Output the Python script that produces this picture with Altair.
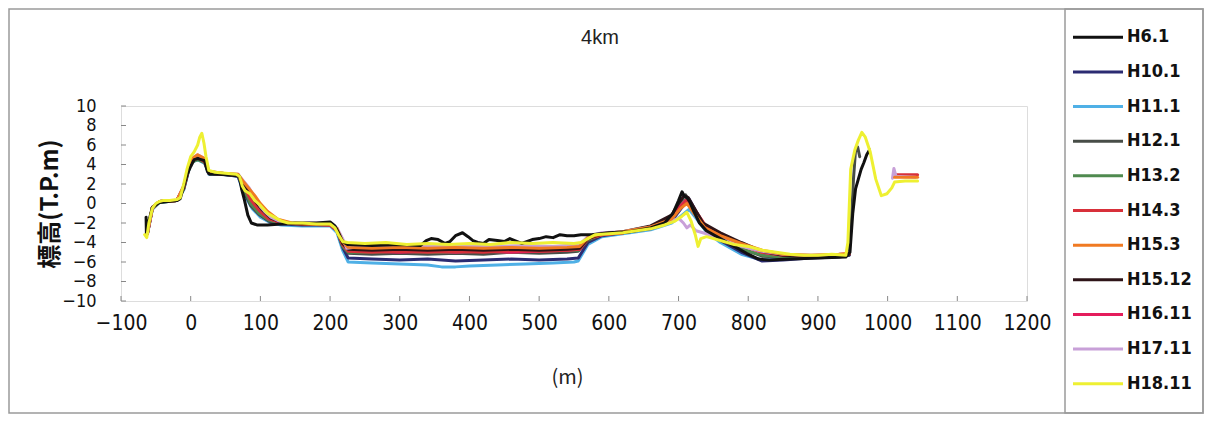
import altair as alt
import pandas as pd

# ---------------- data ----------------
series_names = ["H6.1", "H10.1", "H11.1", "H12.1", "H13.2", "H14.3",
                "H15.3", "H15.12", "H16.11", "H17.11", "H18.11"]
series_colors = ["#111111", "#2b2b72", "#4fb0e6", "#474d47", "#4f8a4f", "#d8303a",
                 "#f07a22", "#2e1418", "#e41c5c", "#c8a0d8", "#eef032"]

x_ticks = [-100, 0, 100, 200, 300, 400, 500, 600, 700, 800, 900, 1000, 1100, 1200]
y_ticks = [-10, -8, -6, -4, -2, 0, 2, 4, 6, 8, 10]

h6_1_x = [-64, -63.5, -60, -55, -45, -20, -15, -5, 0, 5, 10, 20, 24, 27, 40, 60, 70, 73, 77, 82, 87, 95, 110, 130, 150, 180, 200, 207, 212, 218, 225, 260, 300, 330, 338, 345, 355, 365, 372, 380, 390, 398, 405, 412, 420, 428, 440, 450, 458, 465, 475, 490, 500, 510, 520, 530, 540, 550, 560, 575, 600, 630, 660, 680, 692, 700, 705, 708, 712, 716, 722, 730, 740, 760, 780, 800, 815, 830, 860, 900, 940, 946, 950, 954, 958, 962, 966, 970, 974]
h6_1_y = [-1.4, -3.2, -1.8, -0.4, 0.1, 0.3, 0.5, 3.0, 3.8, 4.5, 4.6, 4.4, 3.3, 3.0, 3.0, 2.9, 2.8, 1.5, 0.4, -1.2, -2.0, -2.2, -2.2, -2.1, -2.0, -2.0, -1.9, -2.3, -3.0, -3.9, -4.2, -4.3, -4.2, -4.3, -3.8, -3.6, -3.7, -4.1, -3.9, -3.3, -3.0, -3.4, -3.8, -4.0, -4.1, -3.7, -3.8, -3.9, -3.6, -3.8, -4.1, -3.7, -3.6, -3.4, -3.5, -3.2, -3.3, -3.3, -3.2, -3.2, -3.0, -2.9, -2.5, -2.0, -1.0, 0.3, 1.2, 0.8, 0.6, 0.2, -0.8, -2.0, -2.8, -3.6, -4.4, -5.2, -5.7, -5.8, -5.7, -5.6, -5.5, -5.0, -1.0, 1.5, 2.5, 3.5, 4.2, 5.0, 5.5]

h10_1_x = [-62, -55, -45, -20, -10, 0, 10, 20, 26, 45, 68, 76, 88, 100, 115, 130, 160, 200, 210, 218, 226, 260, 300, 340, 380, 420, 460, 500, 540, 556, 570, 590, 620, 660, 690, 705, 715, 725, 740, 760, 790, 820, 850, 890, 930, 945]
h10_1_y = [-3.0, -0.5, 0.2, 0.3, 1.5, 4.3, 4.6, 4.2, 3.1, 3.0, 2.8, 1.2, -0.3, -1.2, -1.9, -2.1, -2.2, -2.2, -2.8, -4.5, -5.6, -5.7, -5.8, -5.7, -5.9, -5.8, -5.7, -5.8, -5.7, -5.6, -4.0, -3.3, -3.0, -2.6, -1.8, -0.4, 0.5, -0.8, -2.6, -3.8, -5.0, -5.9, -5.8, -5.6, -5.5, -5.3]

h11_1_x = [-62, -55, -45, -20, -10, 0, 10, 20, 26, 45, 68, 76, 88, 100, 115, 130, 160, 200, 210, 218, 226, 260, 300, 340, 360, 380, 400, 440, 480, 520, 550, 556, 570, 590, 620, 660, 690, 705, 715, 725, 740, 760, 790, 820, 850, 890, 930, 945]
h11_1_y = [-3.1, -0.6, 0.1, 0.3, 1.4, 4.2, 4.5, 4.1, 3.0, 3.0, 2.8, 1.0, -0.5, -1.4, -2.0, -2.2, -2.3, -2.3, -3.0, -4.8, -6.0, -6.1, -6.2, -6.3, -6.5, -6.5, -6.4, -6.3, -6.2, -6.1, -6.0, -5.9, -4.2, -3.4, -3.1, -2.7, -2.0, -1.2, -0.6, -1.5, -2.9, -4.0, -5.2, -5.8, -5.7, -5.5, -5.4, -5.3]

h12_1_x = [-62, -55, -45, -20, -10, 0, 10, 20, 26, 45, 68, 76, 86, 98, 112, 130, 160, 200, 210, 218, 226, 260, 300, 340, 380, 420, 460, 500, 540, 556, 570, 590, 620, 660, 690, 703, 710, 720, 735, 760, 790, 820, 850, 890, 930, 944, 948, 951, 954, 957, 960]
h12_1_y = [-3.0, -0.4, 0.2, 0.3, 1.6, 4.4, 4.7, 4.3, 3.2, 3.0, 2.9, 1.4, -0.2, -1.1, -1.8, -2.0, -2.1, -2.1, -2.7, -4.3, -5.1, -5.2, -5.1, -5.2, -5.1, -5.2, -5.0, -5.1, -5.0, -4.9, -3.8, -3.2, -3.0, -2.5, -1.6, 0.2, 0.9, -0.3, -2.2, -3.4, -4.6, -5.4, -5.5, -5.4, -5.4, -5.3, -2.0, 2.5, 5.5, 5.8, 4.8]

h13_2_x = [-62, -55, -45, -20, -10, 0, 10, 20, 26, 45, 68, 76, 86, 98, 112, 130, 160, 200, 210, 218, 226, 260, 300, 340, 380, 420, 460, 500, 540, 556, 570, 590, 620, 660, 690, 705, 712, 722, 738, 760, 790, 820, 850, 890, 930, 945]
h13_2_y = [-3.1, -0.5, 0.1, 0.3, 1.5, 4.2, 4.5, 4.2, 3.1, 3.0, 2.9, 1.6, 0.0, -1.0, -1.7, -2.0, -2.1, -2.2, -2.8, -4.4, -5.0, -5.0, -4.9, -5.0, -5.0, -4.9, -5.0, -4.9, -4.8, -4.8, -3.7, -3.2, -3.0, -2.5, -1.7, 0.0, 0.5, -0.6, -2.4, -3.5, -4.7, -5.3, -5.5, -5.4, -5.3, -5.2]

h14_3_x = [-62, -55, -45, -20, -10, 0, 10, 20, 26, 45, 68, 76, 86, 98, 112, 130, 160, 200, 210, 218, 226, 260, 300, 340, 380, 420, 460, 500, 540, 558, 570, 590, 620, 660, 690, 705, 713, 722, 738, 760, 790, 820, 850, 890, 930, 945]
h14_3_y = [-3.0, -0.4, 0.2, 0.3, 1.7, 4.4, 4.8, 4.3, 3.2, 3.1, 2.9, 1.8, 0.4, -0.7, -1.6, -1.9, -2.1, -2.2, -2.8, -4.2, -4.9, -5.0, -4.9, -5.0, -4.9, -5.0, -4.8, -4.9, -4.8, -4.7, -3.6, -3.2, -3.0, -2.4, -1.5, -0.2, 0.4, -0.5, -2.2, -3.2, -4.3, -5.0, -5.3, -5.4, -5.3, -5.2]
h14_3_end_x = [1010, 1043]
h14_3_end_y = [2.95, 2.95]

h15_3_x = [-62, -55, -45, -20, -10, 0, 10, 20, 26, 45, 68, 76, 84, 92, 100, 110, 125, 145, 170, 200, 210, 218, 226, 260, 300, 340, 380, 420, 460, 500, 540, 558, 570, 590, 620, 660, 690, 703, 712, 722, 738, 760, 790, 820, 850, 890, 930, 945]
h15_3_y = [-3.0, -0.4, 0.2, 0.3, 1.8, 4.5, 5.0, 4.6, 3.3, 3.1, 3.0, 2.2, 1.5, 0.8, 0.0, -0.8, -1.6, -2.0, -2.1, -2.1, -2.6, -3.9, -4.5, -4.6, -4.5, -4.6, -4.5, -4.6, -4.5, -4.6, -4.5, -4.4, -3.5, -3.1, -2.9, -2.4, -1.6, -0.5, 0.0, -1.0, -2.5, -3.3, -4.1, -4.8, -5.2, -5.3, -5.2, -5.1]
h15_3_end_x = [1010, 1043]
h15_3_end_y = [2.7, 2.7]

h15_12_x = [-62, -55, -45, -20, -10, 0, 10, 20, 26, 45, 68, 76, 84, 92, 102, 115, 130, 160, 200, 210, 218, 226, 260, 300, 340, 380, 420, 460, 500, 540, 558, 570, 590, 620, 660, 690, 700, 708, 714, 722, 735, 760, 790, 820, 850, 890, 930, 945]
h15_12_y = [-3.0, -0.4, 0.2, 0.3, 1.7, 4.4, 4.8, 4.4, 3.2, 3.1, 2.9, 2.0, 1.2, 0.3, -0.6, -1.5, -1.9, -2.1, -2.1, -2.6, -4.1, -4.7, -4.8, -4.7, -4.8, -4.7, -4.8, -4.7, -4.8, -4.7, -4.6, -3.6, -3.1, -2.9, -2.3, -1.2, 0.0, 0.8, 0.6, -0.4, -2.0, -3.0, -4.0, -4.9, -5.3, -5.4, -5.3, -5.2]

h16_11_x = [-62, -55, -45, -20, -10, 0, 10, 20, 26, 45, 68, 76, 84, 92, 102, 115, 130, 160, 200, 210, 218, 226, 260, 300, 340, 380, 420, 460, 500, 540, 558, 570, 590, 620, 660, 690, 702, 710, 716, 724, 738, 760, 790, 820, 850, 890, 930, 945]
h16_11_y = [-3.1, -0.5, 0.2, 0.3, 1.6, 4.3, 4.7, 4.3, 3.1, 3.0, 2.9, 1.9, 1.0, 0.2, -0.7, -1.6, -2.0, -2.1, -2.2, -2.7, -4.2, -4.8, -4.9, -5.0, -4.9, -5.0, -4.9, -5.0, -4.9, -4.8, -4.7, -3.6, -3.2, -3.0, -2.4, -1.4, -0.3, 0.3, 0.0, -0.9, -2.3, -3.2, -4.2, -5.0, -5.3, -5.4, -5.3, -5.2]

h17_11_x = [-62, -55, -45, -20, -10, 0, 10, 20, 26, 45, 68, 76, 84, 92, 100, 106, 115, 130, 160, 200, 210, 218, 224, 235, 250, 280, 320, 360, 400, 440, 480, 520, 558, 570, 590, 620, 660, 690, 700, 707, 712, 717, 725, 740, 760, 790, 820, 850, 890, 930, 945]
h17_11_y = [-3.0, -0.4, 0.2, 0.3, 1.8, 4.6, 5.0, 4.6, 3.3, 3.1, 3.0, 2.3, 1.6, 0.6, -0.3, -0.8, -1.4, -1.9, -2.0, -2.0, -2.5, -3.6, -4.6, -4.5, -4.3, -4.4, -4.3, -4.4, -4.3, -4.4, -4.3, -4.4, -4.2, -3.4, -3.0, -2.9, -2.4, -1.8, -1.5, -2.0, -2.5, -2.2, -2.8, -3.1, -3.6, -4.4, -4.9, -5.2, -5.3, -5.2, -5.1]
h17_11_end_x = [1007, 1009, 1012, 1040]
h17_11_end_y = [2.6, 3.6, 2.8, 2.7]

h18_11_x = [-66, -63, -60, -55, -50, -45, -40, -30, -20, -15, -10, -5, 0, 5, 10, 13, 16, 19, 22, 26, 35, 50, 65, 70, 74, 78, 85, 92, 100, 110, 120, 130, 140, 160, 180, 200, 207, 212, 218, 225, 250, 280, 310, 340, 370, 400, 430, 460, 490, 520, 550, 560, 570, 580, 600, 620, 640, 660, 680, 695, 705, 712, 718, 724, 728, 732, 740, 760, 780, 800, 820, 840, 860, 880, 900, 920, 940, 943, 947, 953, 958, 963, 968, 975, 983, 991, 999, 1006, 1010, 1025, 1043]
h18_11_y = [-3.2, -3.5, -2.0, -0.5, 0.0, 0.2, 0.3, 0.3, 0.4, 0.6, 2.0, 3.6, 4.8, 5.3, 6.0, 6.8, 7.2, 6.2, 4.8, 3.4, 3.2, 3.1, 3.0, 2.8, 1.8, 1.3, 1.0, 0.3, -0.2, -1.0, -1.4, -1.8, -2.0, -2.0, -2.1, -2.1, -2.5, -3.2, -3.9, -4.0, -4.1, -4.0, -4.2, -4.1, -4.2, -4.1, -4.2, -4.0, -4.1, -4.0, -4.1, -4.0, -3.6, -3.2, -3.1, -3.0, -2.8, -2.6, -2.2, -1.8, -1.3, -0.9, -1.8, -3.2, -4.4, -3.6, -3.4, -3.8, -4.2, -4.4, -4.8, -5.0, -5.2, -5.3, -5.3, -5.2, -5.3, -4.0, 3.5, 5.5, 6.5, 7.3, 6.8, 5.3, 2.5, 0.8, 1.0, 1.6, 2.2, 2.3, 2.3]

# drawing order (last is on top)
segments = [
    ("H11.1", "a", h11_1_x, h11_1_y),
    ("H10.1", "a", h10_1_x, h10_1_y),
    ("H12.1", "a", h12_1_x, h12_1_y),
    ("H13.2", "a", h13_2_x, h13_2_y),
    ("H16.11", "a", h16_11_x, h16_11_y),
    ("H14.3", "a", h14_3_x, h14_3_y),
    ("H14.3", "b", h14_3_end_x, h14_3_end_y),
    ("H15.12", "a", h15_12_x, h15_12_y),
    ("H17.11", "a", h17_11_x, h17_11_y),
    ("H17.11", "b", h17_11_end_x, h17_11_end_y),
    ("H15.3", "a", h15_3_x, h15_3_y),
    ("H15.3", "b", h15_3_end_x, h15_3_end_y),
    ("H6.1", "a", h6_1_x, h6_1_y),
    ("H18.11", "a", h18_11_x, h18_11_y),
]

rows = []
k = 0
for name, seg, xs, ys in segments:
    for xv, yv in zip(xs, ys):
        rows.append({"series": name, "seg": name + seg, "x": xv, "y": yv, "i": k})
        k += 1
df = pd.DataFrame(rows)
legend_df = pd.DataFrame({"series": series_names})

NARROW = "DejaVu Sans Condensed, Liberation Sans Narrow, Liberation Sans, sans-serif"
CJK = "Noto Sans CJK JP"

W, H = 906, 195

xscale = alt.Scale(domain=[-100, 1200], nice=False, zero=False)
yscale = alt.Scale(domain=[-10, 10], nice=False, zero=False)
cscale = alt.Scale(domain=series_names, range=series_colors)

xaxis = alt.Axis(values=x_ticks, format="d", grid=False, ticks=False, domain=False,
                 labelFont=NARROW, labelFontSize=21, labelColor="#111",
                 labelPadding=11, labelFlush=False, labelOverlap=False,
                 title="(m)", titleFont=CJK, titleFontSize=20,
                 titleFontWeight="normal", titleColor="#222", titlePadding=34,
                 titleX=446)
yaxis = alt.Axis(values=y_ticks, grid=False, ticks=False, domain=False,
                 labelFont=NARROW, labelFontSize=18, labelColor="#111",
                 labelPadding=25, labelOverlap=False,
                 title="標高(T.P.m)", titleFont=CJK, titleFontSize=24,
                 titleFontWeight="bold", titleColor="#111",
                 titleX=-71, titleY=H / 2, titleAlign="center", titleBaseline="middle")

one = pd.DataFrame({"a": [0]})

frame = alt.Chart(one).mark_rect(
    fillOpacity=0, stroke="#9a9a9a", strokeWidth=1.5
).encode(x=alt.value(-112), x2=alt.value(1082), y=alt.value(-97), y2=alt.value(307))

legend_box = alt.Chart(one).mark_rect(
    fillOpacity=0, stroke="#9a9a9a", strokeWidth=1.5
).encode(x=alt.value(944), x2=alt.value(1082), y=alt.value(-97), y2=alt.value(307))

lines = alt.Chart(df).mark_line(strokeWidth=3, strokeJoin="round", strokeCap="round").encode(
    x=alt.X("x:Q", scale=xscale, axis=xaxis),
    y=alt.Y("y:Q", scale=yscale, axis=yaxis),
    color=alt.Color("series:N", scale=cscale, legend=None),
    detail="seg:N",
    order="i:Q",
)

ytick_layer = alt.Chart(pd.DataFrame({"y": y_ticks})).mark_rule(color="#888", strokeWidth=1).encode(
    y=alt.Y("y:Q", scale=yscale, axis=None), x=alt.value(0), x2=alt.value(5)
)
xtick_layer = alt.Chart(pd.DataFrame({"x": x_ticks})).mark_rule(color="#888", strokeWidth=1).encode(
    x=alt.X("x:Q", scale=xscale, axis=xaxis), y=alt.value(H), y2=alt.value(H - 5)
)

leg_y = alt.Y("series:N", scale=alt.Scale(type="point", domain=series_names, range=[-86, 295]),
              axis=None)
legend_lines = alt.Chart(legend_df).mark_rule(strokeWidth=3).encode(
    y=leg_y, x=alt.value(952), x2=alt.value(1002),
    color=alt.Color("series:N", scale=cscale, legend=None),
)
legend_text = alt.Chart(legend_df).mark_text(
    align="left", baseline="middle", font=NARROW, fontSize=18, fontWeight="bold", color="#111"
).encode(y=leg_y, x=alt.value(1006), text="series:N")

title_text = alt.Chart(pd.DataFrame({"t": ["4km"]})).mark_text(
    font="Liberation Sans", fontSize=20, color="#222", align="center", baseline="middle"
).encode(text="t:N", x=alt.value(479), y=alt.value(-68))

chart = alt.layer(frame, legend_box, ytick_layer, xtick_layer, lines,
                  legend_lines, legend_text, title_text).resolve_scale(
    y="independent"
).properties(
    width=W, height=H,
    autosize=alt.AutoSizeParams(type="none"),
    padding={"left": 113, "top": 98, "right": 177, "bottom": 114},
).configure_view(stroke="#9a9a9a", strokeWidth=1).configure(background="white")

chart.save("out.html", embed_options={"renderer": "svg", "actions": False})
